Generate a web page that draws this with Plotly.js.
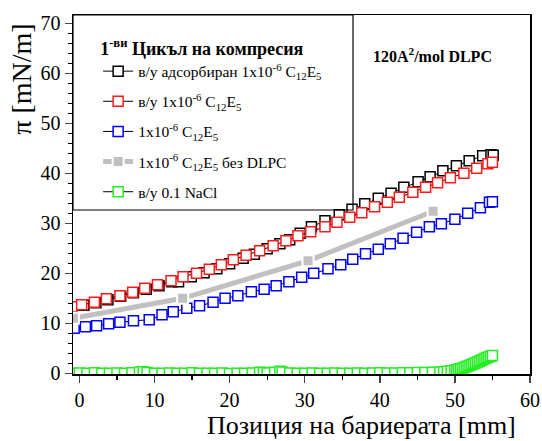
<!DOCTYPE html>
<html>
<head>
<meta charset="utf-8">
<script src="https://cdn.plot.ly/plotly-3.0.1.min.js"></script>
<style>html,body{margin:0;padding:0;background:#fff;}#chart{width:542px;height:441px;}</style>
</head>
<body>
<div id="chart"></div>
<script>
// ---- Data ----
const seriesNames = [
  'в/у адсорбиран 1x10<sup>-6</sup> C<sub>12</sub>E<sub>5</sub>',
  'в/у 1x10<sup>-6</sup> C<sub>12</sub>E<sub>5</sub>',
  '1x10<sup>-6</sup> C<sub>12</sub>E<sub>5</sub>',
  '1x10<sup>-6</sup> C<sub>12</sub>E<sub>5</sub> без DLPC',
  'в/у 0.1 NaCl'
];

const blackX = [-1.0, 0.6, 2.2, 3.8, 5.5, 7.2, 8.9, 10.6, 12.3, 13.2, 14.9, 16.6, 18.3, 20.0, 21.8, 23.3, 25.0, 26.7, 28.0, 29.4, 30.9, 32.7, 34.6, 36.3, 38.0, 39.8, 41.5, 43.2, 45.1, 46.7, 48.4, 50.2, 51.9, 53.7, 54.8, 55.1];
const blackY = [13.2, 13.6, 14.1, 14.7, 15.4, 16.1, 16.8, 17.5, 18.3, 18.3, 19.3, 20.1, 20.9, 21.9, 23.0, 23.8, 24.9, 25.9, 26.7, 28.0, 29.3, 30.5, 31.7, 32.8, 33.9, 35.0, 36.0, 37.2, 38.3, 39.3, 40.5, 41.5, 42.5, 43.5, 43.7, 43.6];

const redX = [-1.0, 0.3, 2.0, 3.6, 5.4, 7.1, 8.7, 10.4, 12.2, 13.8, 15.6, 17.3, 18.9, 20.5, 22.2, 24.0, 25.8, 27.5, 29.1, 30.8, 32.7, 34.3, 36.0, 37.6, 39.3, 41.0, 42.6, 44.4, 46.1, 47.7, 49.4, 51.2, 52.9, 54.4, 55.0];
const redY = [13.3, 13.7, 14.2, 14.9, 15.5, 16.2, 17.0, 17.7, 18.5, 19.3, 20.0, 20.8, 21.7, 22.7, 23.6, 24.5, 25.5, 26.5, 27.5, 28.3, 29.3, 30.2, 31.2, 32.1, 33.3, 34.2, 35.2, 36.2, 37.2, 38.1, 39.1, 40.0, 41.0, 41.9, 42.2];

const blueX = [-0.7, 0.8, 2.3, 3.9, 5.4, 7.2, 9.3, 11.0, 12.5, 14.3, 16.0, 17.8, 19.4, 21.1, 22.9, 24.6, 26.2, 27.9, 29.6, 31.2, 33.1, 34.8, 36.4, 38.1, 39.8, 41.4, 43.1, 44.9, 46.6, 48.2, 50.0, 51.7, 53.4, 54.6, 55.0];
const blueY = [9.0, 9.3, 9.5, 9.9, 10.2, 10.5, 10.7, 11.7, 12.3, 13.0, 13.5, 14.2, 15.0, 15.5, 16.3, 16.8, 17.5, 18.3, 19.2, 20.0, 20.9, 21.7, 22.8, 23.9, 24.8, 25.9, 27.0, 28.2, 29.3, 29.9, 30.8, 32.0, 33.1, 34.2, 34.3];

const grayX = [-0.8, 13.75, 30.45, 47.1];
const grayY = [11.0, 15.0, 22.5, 32.4];

const greenX = [-0.8, 0, 1, 2, 3, 4, 5, 6, 7, 8, 8.5, 9, 10, 11, 12, 13, 14, 15, 16, 17, 18, 19, 20, 21, 22, 23, 24, 24.5, 25, 26, 26.7, 27, 28, 29, 30, 31, 32, 33, 34, 35, 36, 37, 38, 39, 40, 41, 42, 43, 44, 45, 46, 47, 48, 48.5, 49, 49.5, 50, 50.25, 50.5, 50.75, 51, 51.25, 51.5, 51.75, 52, 52.25, 52.5, 52.75, 53, 53.25, 53.5, 53.75, 54, 54.25, 54.5, 54.75, 55];
const greenY = [0.0, 0.05, 0.0, 0.1, 0.0, 0.0, 0.05, 0.0, 0.1, 0.25, 0.3, 0.15, 0.0, 0.0, 0.05, 0.0, 0.0, 0.1, 0.0, 0.0, 0.0, 0.05, -0.05, 0.0, 0.0, 0.05, 0.2, 0.15, 0.05, 0.2, 0.4, 0.25, 0.05, 0.0, 0.0, 0.05, 0.0, 0.0, 0.05, 0.0, 0.0, 0.05, 0.0, 0.05, 0.1, 0.05, 0.05, 0.1, 0.1, 0.15, 0.15, 0.2, 0.25, 0.3, 0.4, 0.5, 0.6, 0.7, 0.8, 0.9, 1.0, 1.15, 1.3, 1.45, 1.6, 1.75, 1.9, 2.05, 2.25, 2.4, 2.6, 2.75, 2.95, 3.1, 3.25, 3.4, 3.55];

const xTickVals = [0, 10, 20, 30, 40, 50, 60];
const yTickVals = [0, 10, 20, 30, 40, 50, 60, 70];

// ---- Styling ----
const FONT = 'Liberation Serif, Times New Roman, serif';

function sq(name, xs, ys, col, group) {
  return {
    type: 'scatter', mode: 'lines+markers', name: name, x: xs, y: ys,
    legendgroup: group,
    line: {color: '#000', width: 1},
    marker: {symbol: 'square', size: 10, color: '#fff', line: {color: col, width: 1.5}}
  };
}

const traces = [
  sq(seriesNames[0], blackX, blackY, '#000000', 'a'),
  sq(seriesNames[1], redX, redY, '#ff1a1a', 'b'),
  sq(seriesNames[2], blueX, blueY, '#0000ff', 'c'),
  {
    type: 'scatter', mode: 'lines+markers', name: seriesNames[3], x: grayX, y: grayY,
    legendgroup: 'd',
    line: {color: '#c0c0c0', width: 5},
    marker: {symbol: 'square', size: 11, color: '#c0c0c0', line: {color: '#fff', width: 2}}
  },
  sq(seriesNames[4], greenX, greenY, '#22ee22', 'e')
];
traces.forEach((t, i) => t.legendrank = i + 1);

const layout = {
  width: 542, height: 441,
  margin: {l: 73, r: 12, t: 15, b: 67},
  paper_bgcolor: '#fff', plot_bgcolor: '#fff',
  font: {family: FONT, color: '#000', size: 20},
  showlegend: true,
  legend: {
    x: 0.055, xanchor: 'left', y: 0.955, yanchor: 'top',
    bgcolor: 'rgba(0,0,0,0)', borderwidth: 0,
    font: {family: FONT, size: 15.5, color: '#000'},
    title: {text: '<b>1<sup>-ви</sup> Цикъл на компресия</b>', font: {family: FONT, size: 18, color: '#000'}, side: 'top'},
    tracegroupgap: 7,
    traceorder: 'grouped'
  },
  xaxis: {
    range: [-0.85, 60], tickvals: xTickVals, ticks: 'outside', ticklen: 7, tickwidth: 1.5,
    showline: true, linewidth: 1.5, linecolor: '#000', mirror: true, showgrid: false, zeroline: false,
    tickfont: {family: FONT, size: 20, color: '#000'},
    minor: {dtick: 5, ticks: 'outside', ticklen: 4, tickwidth: 1.2, tickcolor: '#000', showgrid: false}
  },
  yaxis: {
    range: [-0.14, 71.66], tickvals: yTickVals, ticks: 'outside', ticklen: 7, tickwidth: 1.5,
    showline: true, linewidth: 1.5, linecolor: '#000', mirror: true, showgrid: false, zeroline: false,
    tickfont: {family: FONT, size: 20, color: '#000'},
    minor: {dtick: 2, ticks: 'outside', ticklen: 4, tickwidth: 1.2, tickcolor: '#000', showgrid: false}
  },
  shapes: [{
    type: 'rect', xref: 'paper', yref: 'paper', x0: 0, x1: 0.6127, y0: 0.4568, y1: 1,
    line: {color: '#000', width: 1.2}, fillcolor: 'rgba(0,0,0,0)', layer: 'above'
  }],
  annotations: [
    {text: '<b>120A<sup>2</sup>/mol DLPC</b>', xref: 'paper', yref: 'paper', x: 0.652, y: 0.889,
     xanchor: 'left', yanchor: 'middle', showarrow: false, font: {family: FONT, size: 16, color: '#000'}},
    {text: 'Позиция на бариерата [mm]', xref: 'paper', yref: 'paper', x: 0.632, y: -0.143,
     xanchor: 'center', yanchor: 'middle', showarrow: false, font: {family: FONT, size: 26, color: '#000'}},
    {text: 'π [mN/m]', xref: 'paper', yref: 'paper', x: -0.112, y: 0.822, textangle: -90,
     xanchor: 'center', yanchor: 'middle', showarrow: false, font: {family: FONT, size: 28, color: '#000'}}
  ]
};

Plotly.newPlot('chart', traces, layout, {displayModeBar: false, staticPlot: true});
</script>
</body>
</html>
